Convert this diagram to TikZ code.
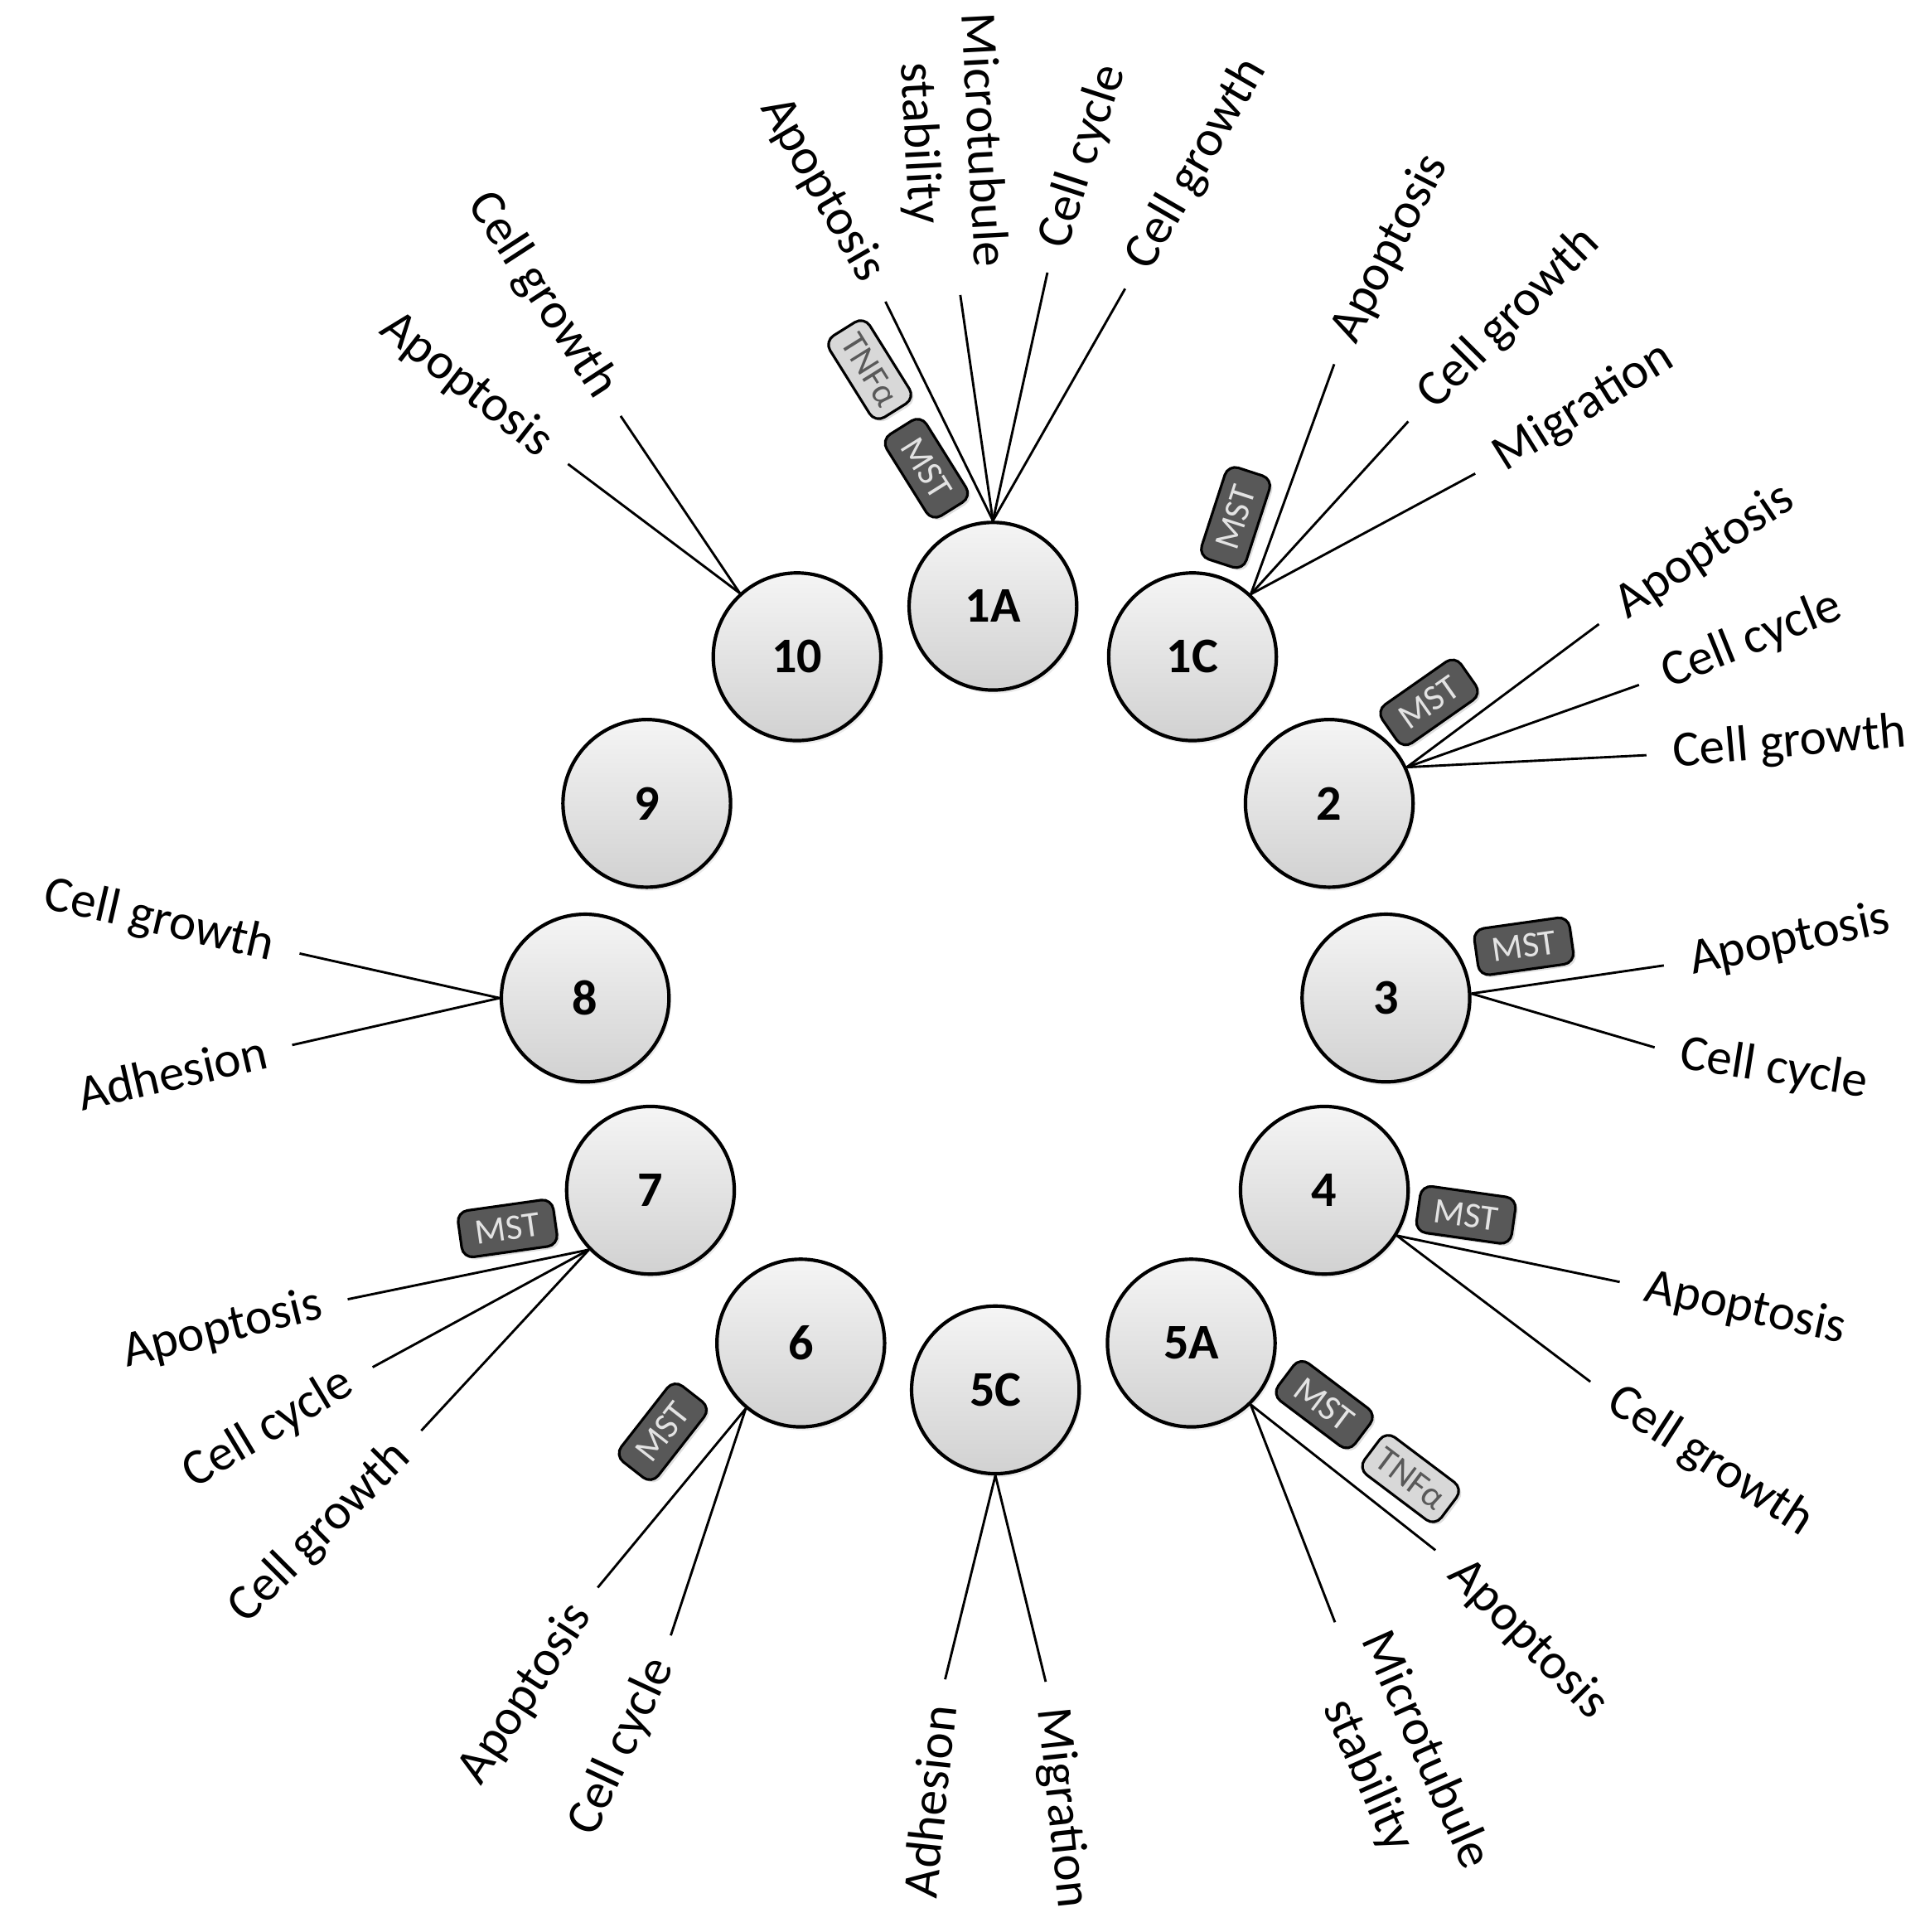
\documentclass[tikz,border=0pt]{standalone}
\usepackage{fontspec}
\setmainfont{Carlito}
\usepackage{tikz}
\usetikzlibrary{positioning,shadows}
\definecolor{mstgray}{RGB}{88,88,88}
\definecolor{tnfgray}{RGB}{216,216,216}
\tikzstyle{site}   = [circle, minimum size=1.36cm, inner sep=0, draw=black, line width=0.8pt, top color=gray!8, bottom color=gray!36, font=\fontsize{11.5}{13}\selectfont\bfseries, drop shadow={opacity=0.15, shadow xshift=0.5pt, shadow yshift=-0.8pt}]
\tikzstyle{effect} = [inner sep=1pt, align=center, font=\fontsize{11.7}{14.5}\selectfont]
\tikzstyle{mst}    = [rectangle, rounded corners=2.5pt, minimum width=0.78cm, minimum height=0.38cm, inner sep=1pt, draw=black, line width=0.6pt, fill=mstgray, text=gray!22, font=\fontsize{8.3}{9}\selectfont, drop shadow={opacity=0.25, shadow xshift=0.6pt, shadow yshift=-0.6pt}]
\tikzstyle{tnf}    = [mst, fill=tnfgray, text=black!65]
\tikzstyle{link}   = [line width=0.55pt, shorten >=5pt]

\begin{document}
\begin{tikzpicture}[x=0.01cm, y={(0cm,-0.01cm)}]
        \useasboundingbox (0,0) rectangle (1566,1568);

        \node (c1A) [site] at (806,492) {1A};
        \node (c1C) [site] at (968,533) {1C};
        \node (c2) [site] at (1079,652) {2};
        \node (c3) [site] at (1125,810) {3};
        \node (c4) [site] at (1075,966) {4};
        \node (c5A) [site] at (967,1090) {5A};
        \node (c5C) [site] at (808,1128) {5C};
        \node (c6) [site] at (650,1090) {6};
        \node (c7) [site] at (528,966) {7};
        \node (c8) [site] at (475,810) {8};
        \node (c9) [site] at (525,652) {9};
        \node (c10) [site] at (647,533) {10};

        \node (apop1A) [effect, rotate=-60, anchor=east] at (711,229) {Apoptosis};
        \node (micro1A) [effect, rotate=-87, anchor=east] at (777,222) {Microtubule\\stability};
        \node (cycle1A) [effect, rotate=72, anchor=west] at (854,204) {Cell cycle};
        \node (growth1A) [effect, rotate=60, anchor=west] at (922,219) {Cell growth};

        \node (apop1C) [effect, rotate=63, anchor=west] at (1089,279) {Apoptosis};
        \node (growth1C) [effect, rotate=45, anchor=west] at (1155,329) {Cell growth};
        \node (migr1C) [effect, rotate=32, anchor=west] at (1213,376) {Migration};

        \node (apop2) [effect, rotate=34, anchor=west] at (1312,496) {Apoptosis};
        \node (cycle2) [effect, rotate=22, anchor=west] at (1347,550) {Cell cycle};
        \node (growth2) [effect, rotate=5, anchor=west] at (1354,612) {Cell growth};

        \node (apop3) [effect, rotate=12, anchor=west] at (1368,781) {Apoptosis};
        \node (cycle3) [effect, rotate=-9, anchor=west] at (1360,855) {Cell cycle};

        \node (apop4) [effect, rotate=-12, anchor=west] at (1332,1044) {Apoptosis};
        \node (growth4) [effect, rotate=-33, anchor=west] at (1305,1132) {Cell growth};

        \node (apop5A) [effect, rotate=-45, anchor=west] at (1179,1269) {Apoptosis};
        \node (micro5A) [effect, rotate=-66, anchor=west] at (1090,1333) {Microtubule\\stability};

        \node (adh5C) [effect, rotate=84, anchor=east] at (763,1380) {Adhesion};
        \node (migr5C) [effect, rotate=-84, anchor=west] at (853,1382) {Migration};

        \node (apop6) [effect, rotate=57, anchor=east] at (474,1302) {Apoptosis};
        \node (cycle6) [effect, rotate=65, anchor=east] at (539,1344) {Cell cycle};

        \node (apop7) [effect, rotate=14, anchor=east] at (265,1058) {Apoptosis};
        \node (cycle7) [effect, rotate=31, anchor=east] at (287,1118) {Cell cycle};
        \node (growth7) [effect, rotate=45, anchor=east] at (330,1174) {Cell growth};

        \node (growth8) [effect, rotate=-13, anchor=east] at (226,770) {Cell growth};
        \node (adh8) [effect, rotate=13, anchor=east] at (220,852) {Adhesion};

        \node (apop10) [effect, rotate=-38, anchor=east] at (447,366) {Apoptosis};
        \node (growth10) [effect, rotate=-57, anchor=east] at (494,323) {Cell growth};

        \draw [link] (c1A.90) -- (apop1A.east);
        \draw [link] (c1A.90) -- (micro1A.east);
        \draw [link] (c1A.90) -- (cycle1A.west);
        \draw [link] (c1A.90) -- (growth1A.west);
        \draw [link] (c1C.47) -- (apop1C.west);
        \draw [link] (c1C.47) -- (growth1C.west);
        \draw [link] (c1C.47) -- (migr1C.west);
        \draw [link] (c2.25) -- (apop2.west);
        \draw [link] (c2.25) -- (cycle2.west);
        \draw [link] (c2.25) -- (growth2.west);
        \draw [link] (c3.3) -- (apop3.west);
        \draw [link] (c3.3) -- (cycle3.west);
        \draw [link] (c4.-32) -- (apop4.west);
        \draw [link] (c4.-32) -- (growth4.west);
        \draw [link] (c5A.-46) -- (apop5A.west);
        \draw [link] (c5A.-46) -- (micro5A.west);
        \draw [link] (c5C.-90) -- (adh5C.east);
        \draw [link] (c5C.-90) -- (migr5C.west);
        \draw [link] (c6.-130) -- (apop6.east);
        \draw [link] (c6.-130) -- (cycle6.east);
        \draw [link] (c7.-136) -- (apop7.east);
        \draw [link] (c7.-136) -- (cycle7.east);
        \draw [link] (c7.-136) -- (growth7.east);
        \draw [link] (c8.180) -- (growth8.east);
        \draw [link] (c8.180) -- (adh8.east);
        \draw [link] (c10.132) -- (apop10.east);
        \draw [link] (c10.132) -- (growth10.east);

        \node (tnf1A) [tnf, rotate=-58] at (706,300) {TNFα};
        \node (mst1A) [mst, rotate=-58] at (752,380) {MST};
        \node (mst1C) [mst, rotate=72] at (1003,420) {MST};
        \node (mst2) [mst, rotate=35] at (1160,570) {MST};
        \node (mst3) [mst, rotate=8] at (1237,768) {MST};
        \node (mst4) [mst, rotate=-8] at (1190,986) {MST};
        \node (mst5A) [mst, rotate=-37] at (1075,1140) {MST};
        \node (tnf5A) [tnf, rotate=-37] at (1145,1200) {TNFα};
        \node (mst6) [mst, rotate=52] at (538,1162) {MST};
        \node (mst7) [mst, rotate=8] at (412,997) {MST};
    \end{tikzpicture}
\end{document}
